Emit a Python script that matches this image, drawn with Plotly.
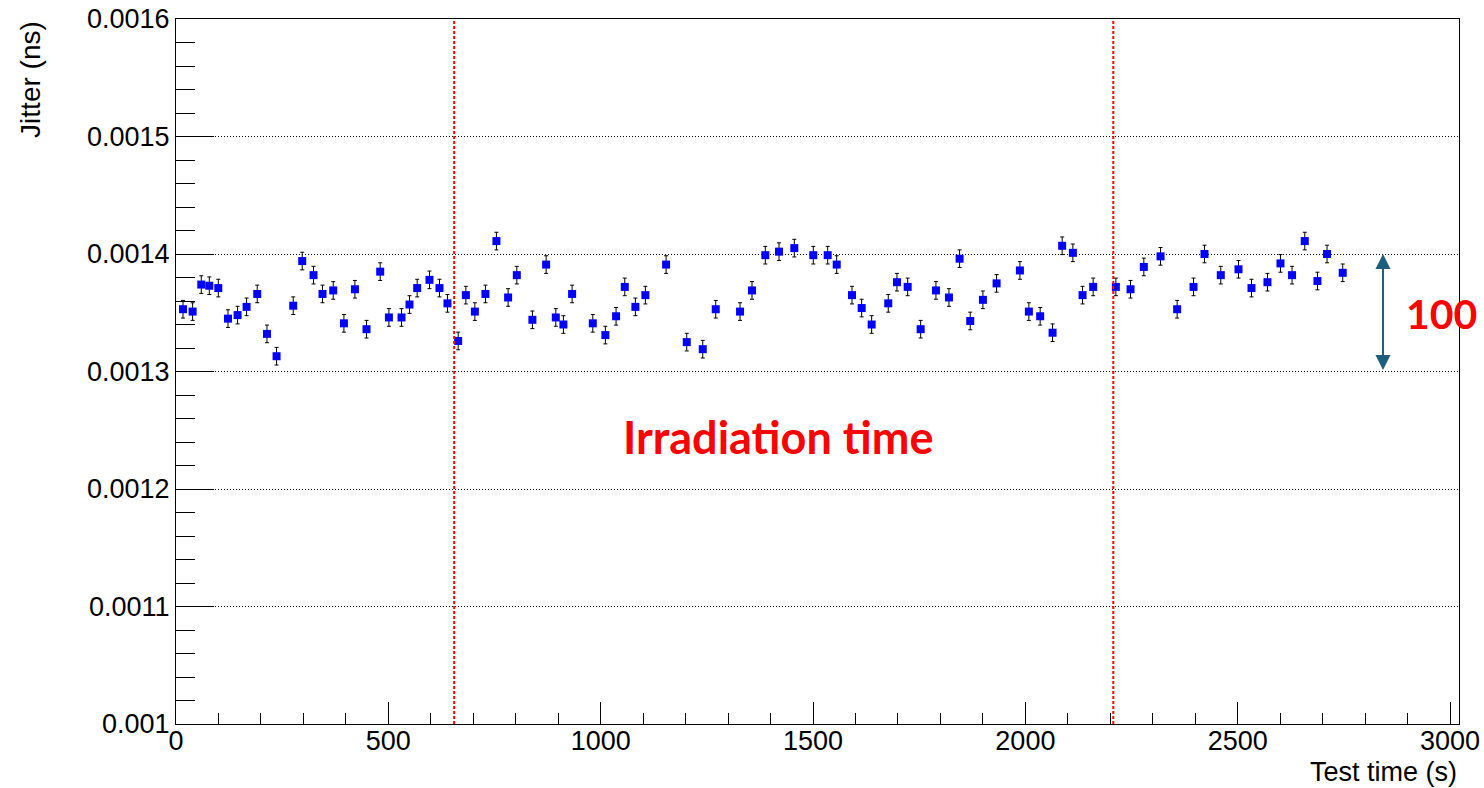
import plotly.graph_objects as go

# Data
test_time = [16.5, 39.1, 59.5, 78.4, 99.6, 122.4, 145, 166.2, 191.3, 214.2,
             236.8, 276, 297.2, 323.8, 345, 370.2, 395.4, 421.3, 448.6, 480.8,
             501.3, 531, 549.8, 567.9, 596.8, 620.4, 639.2, 664.4, 682.5, 703.7,
             728.6, 754.5, 782, 802.5, 839.2, 871.5, 894.3, 912.2, 932.7, 981.4,
             1011, 1036.2, 1056.7, 1081.7, 1105.2, 1154, 1202.6, 1240.3, 1270.9, 1328.1,
             1356.3, 1387.6, 1419.9, 1455.9, 1500.6, 1534.5, 1555.7, 1591.7, 1614.5, 1638,
             1677.1, 1697.6, 1722.8, 1753.4, 1789.4, 1820, 1845.1, 1870.1, 1900, 1932.2,
             1987.1, 2008.2, 2034.8, 2064, 2086.6, 2111.8, 2134.6, 2159.6, 2213, 2247.6,
             2278.9, 2318.2, 2357.3, 2395.9, 2421.7, 2460.1, 2501.8, 2532.4, 2570, 2600.6,
             2627.9, 2657.8, 2687.7, 2710.3, 2747.2]
jitter = [0.001353, 0.001351, 0.001374, 0.001373, 0.001371, 0.001345, 0.001348, 0.001355, 0.001366, 0.001332,
          0.001313, 0.001356, 0.001394, 0.001382, 0.001366, 0.001369, 0.001341, 0.001370, 0.001336, 0.001385,
          0.001346, 0.001346, 0.001357, 0.001371, 0.001378, 0.001371, 0.001358, 0.001326, 0.001365, 0.001351,
          0.001366, 0.001411, 0.001363, 0.001382, 0.001344, 0.001391, 0.001346, 0.001340, 0.001366, 0.001341,
          0.001331, 0.001347, 0.001372, 0.001355, 0.001365, 0.001391, 0.001325, 0.001319, 0.001353, 0.001351,
          0.001369, 0.001399, 0.001402, 0.001405, 0.001399, 0.001399, 0.001391, 0.001365, 0.001354, 0.001340,
          0.001358, 0.001376, 0.001372, 0.001336, 0.001369, 0.001363, 0.001396, 0.001343, 0.001361, 0.001375,
          0.001386, 0.001351, 0.001347, 0.001333, 0.001407, 0.001401, 0.001365, 0.001372, 0.001372, 0.001370,
          0.001389, 0.001398, 0.001353, 0.001372, 0.001400, 0.001382, 0.001387, 0.001371, 0.001376, 0.001392,
          0.001382, 0.001411, 0.001377, 0.001400, 0.001384]
jitter_err = [0.0000075] * len(jitter)

irradiation_bounds = [655, 2207]
y_tick_vals = [0.001, 0.0011, 0.0012, 0.0013, 0.0014, 0.0015, 0.0016]
y_tick_text = ["0.001", "0.0011", "0.0012", "0.0013", "0.0014", "0.0015", "0.0016"]
x_tick_vals = [0, 500, 1000, 1500, 2000, 2500, 3000]
arrow_x = 2842
arrow_range = [0.0013, 0.0014]

FONT = "Liberation Sans, Arial, Helvetica, sans-serif"

fig = go.Figure()
fig.add_trace(go.Scatter(
    x=test_time, y=jitter, mode="markers",
    marker=dict(symbol="square", size=8, color="#0000ff"),
    error_y=dict(type="data", array=jitter_err, visible=True,
                 color="black", thickness=1, width=2),
    showlegend=False,
))

for xb in irradiation_bounds:
    fig.add_shape(type="line", xref="x", yref="paper", x0=xb, x1=xb, y0=0, y1=1,
                  line=dict(color="red", width=2, dash="3px,2px"))

fig.add_annotation(
    x=arrow_x, y=arrow_range[1], ax=arrow_x, ay=arrow_range[0],
    xref="x", yref="y", axref="x", ayref="y",
    showarrow=True, arrowhead=2, startarrowhead=2, arrowside="end+start",
    arrowsize=1.5, startarrowsize=1.5, arrowwidth=2, arrowcolor="#1b5f7c",
    text="", standoff=0, startstandoff=0,
)
fig.add_annotation(x=2980, y=0.001349, xref="x", yref="y", text="<b>100</b>",
                   showarrow=False, xanchor="center", yanchor="middle",
                   font=dict(family="Lato, Open Sans, sans-serif", size=41, color="red"))
fig.add_annotation(x=1418, y=0.001244, xref="x", yref="y", text="<b>Irradiation time</b>",
                   showarrow=False, xanchor="center", yanchor="middle",
                   font=dict(family="Lato, Open Sans, sans-serif", size=45, color="red"))

# axis titles (ROOT style: right/top aligned)
fig.add_annotation(x=1, y=-0.068, xref="paper", yref="paper", text="Test time (s)",
                   showarrow=False, xanchor="right", yanchor="middle",
                   font=dict(family=FONT, size=27, color="black"))
fig.add_annotation(x=-0.1135, y=1, xref="paper", yref="paper", text="Jitter (ns)",
                   showarrow=False, textangle=-90, xanchor="center", yanchor="top",
                   font=dict(family=FONT, size=28, color="black"))

fig.update_layout(
    width=1484, height=788,
    margin=dict(l=176, r=25, t=19, b=64),
    paper_bgcolor="white", plot_bgcolor="white",
    font=dict(family=FONT, size=27, color="black"),
    xaxis=dict(
        range=[0, 3021], tickvals=x_tick_vals, automargin=False,
        ticks="inside", ticklen=22, tickwidth=1, tickcolor="black",
        ticklabelstandoff=-7,
        showline=True, linecolor="black", linewidth=1, mirror=True,
        showgrid=False, zeroline=False,
        tickfont=dict(family=FONT, size=27),
        minor=dict(dtick=100, tick0=0, ticks="inside", ticklen=11, tickcolor="black", showgrid=False),
    ),
    yaxis=dict(
        range=[0.001, 0.0016], tickmode="array", tickvals=y_tick_vals, ticktext=y_tick_text,
        automargin=False,
        ticks="inside", ticklen=38, tickwidth=1, tickcolor="black",
        showline=True, linecolor="black", linewidth=1, mirror=True,
        showgrid=True, gridcolor="black", gridwidth=1, griddash="1px,2px",
        zeroline=False,
        tickfont=dict(family=FONT, size=27),
        minor=dict(tickmode="linear", tick0=0.001, dtick=0.00002, ticks="inside", ticklen=19,
                   tickcolor="black", showgrid=False),
    ),
)

fig.write_html("out.html")
